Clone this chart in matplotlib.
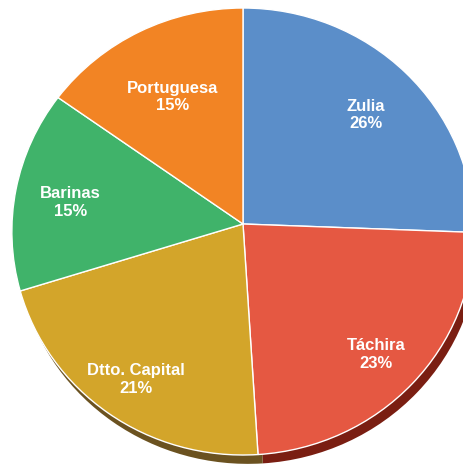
import matplotlib
matplotlib.use("Agg")
import matplotlib.pyplot as plt
import numpy as np
from matplotlib.path import Path
from matplotlib.patches import PathPatch

estados = ["Zulia", "Táchira", "Dtto. Capital", "Barinas", "Portuguesa"]
valores = [25.6, 23.4, 21.2, 14.6, 15.2]
colores = ["#5b8ec9", "#e55842", "#d3a52a", "#40b36a", "#f28424"]
sombras = ["none", "#7a1e12", "#6b5220", "#1f5a35", "#7a4210"]
dist_etiq = [0.75, 0.79, 0.80, 0.76, 0.68]

K = 0.0336  # inclinacion (perspectiva) del disco


def persp(xy):
    xy = np.asarray(xy, dtype=float)
    d = 1 + K * xy[..., 1]
    return np.stack([xy[..., 0] / d, xy[..., 1] / d], axis=-1)


def inclinar(ax, wedges):
    # reemplaza cada cuna por su version con perspectiva
    for w in wedges:
        p = w.get_path()
        nueva = Path(persp(p.vertices), p.codes)
        pp = PathPatch(nueva, facecolor=w.get_facecolor(), edgecolor=w.get_edgecolor(),
                       linewidth=w.get_linewidth(), zorder=w.get_zorder())
        ax.add_patch(pp)
        w.set_visible(False)


fig = plt.figure(figsize=(4.63, 4.65), dpi=100)
ax = fig.add_axes([0, 0, 1, 1])
ax.axis("off")

# sombra inferior
sw, _ = ax.pie(valores, colors=sombras, startangle=90, counterclock=False,
               center=(0.02, -0.037), wedgeprops=dict(linewidth=0))
inclinar(ax, sw)

total = sum(valores)
wedges, textos = ax.pie(valores, colors=colores, startangle=90, counterclock=False,
                        labels=[f"{e}\n{round(v / total * 100):.0f}%" for e, v in zip(estados, valores)],
                        labeldistance=1.0,
                        wedgeprops=dict(edgecolor="white", linewidth=1.0))
inclinar(ax, wedges)

for t, d in zip(textos, dist_etiq):
    x, y = t.get_position()
    px, py = persp([x * d, y * d])
    t.set_position((px, py - 0.022))
    t.set_ha("center")
    t.set_va("center")
    t.set_color("white")
    t.set_fontweight("bold")
    t.set_fontsize(12)
    t.set_family(["Liberation Sans", "DejaVu Sans"])
    t.set_linespacing(1.2)
    t.set_zorder(5)

# coordenadas: vertice en (243, 224) px
ax.set_aspect("auto")
ax.set_xlim(-243 / 231, (463 - 243) / 231)
ax.set_ylim(-241 / 223.25, 224 / 223.25)

fig.savefig("out.png", dpi=100)
